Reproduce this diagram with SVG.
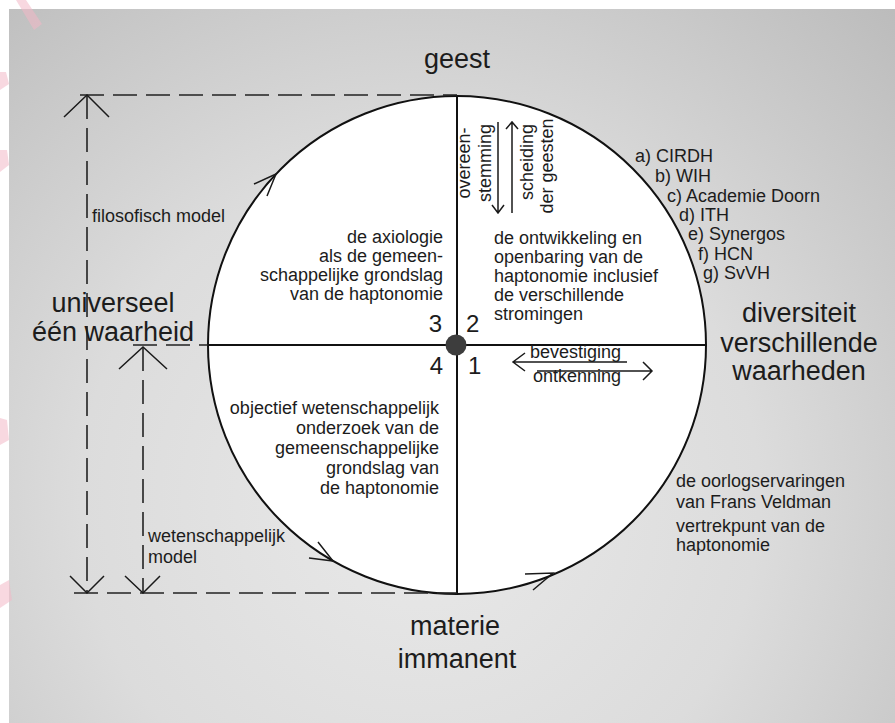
<svg xmlns="http://www.w3.org/2000/svg" width="895" height="723" viewBox="0 0 895 723">
<defs>
<radialGradient id="bg" gradientUnits="userSpaceOnUse" cx="420" cy="500" r="680">
<stop offset="0" stop-color="#e9e9e9"/>
<stop offset="0.5" stop-color="#dcdcdc"/>
<stop offset="1" stop-color="#bcbcbc"/>
</radialGradient>
<style>
.big{font-family:"Liberation Sans",Arial,sans-serif;font-size:27px;fill:#1c1c1c}
.sm{font-family:"Liberation Sans",Arial,sans-serif;font-size:18px;fill:#1c1c1c}
.num{font-family:"Liberation Sans",Arial,sans-serif;font-size:24px;fill:#1c1c1c}
.mid{text-anchor:middle}
.end{text-anchor:end}
.ln{stroke:#111;stroke-width:2;fill:none}
.th{stroke:#1a1a1a;stroke-width:1.5;fill:none}
.dash{stroke:#222;stroke-width:1.6;fill:none;stroke-dasharray:24 9}
.pink{fill:#f2b8c6;opacity:0.55}
</style>
</defs>
<rect width="895" height="723" fill="#ffffff"/>
<rect x="9" y="9" width="886" height="714" fill="url(#bg)"/>
<g id="watermark">
<polygon class="pink" points="16,0 26,0 42,24 34,30"/>
<polygon class="pink" points="0,72 6,72 9,84 0,90"/>
<polygon class="pink" points="0,150 7,150 9,165 0,172"/>
<polygon class="pink" points="0,418 7,420 9,440 0,445"/>
<polygon class="pink" points="0,585 9,580 12,600 0,608"/>
</g>
<g id="circle">
<circle cx="457" cy="345" r="249" fill="#ffffff" stroke="#111" stroke-width="2"/>
<path class="ln" d="M457,96 V594 M208,345 H706"/>
<circle cx="456" cy="345" r="10.5" fill="#3d3d3d"/>
</g>
<g id="connectors">
<path class="dash" d="M80,95 H457"/>
<path class="dash" d="M87,95 V593"/>
<path class="dash" d="M74,593 H457"/>
<path class="dash" d="M143,347 V593"/>
<path class="dash" d="M133,345 H208"/>
<path class="th" d="M64,117 L87,95 L109,117"/>
<path class="th" d="M119,369 L143,347 L167,369"/>
<path class="th" d="M70,576 L87,593 L104,576"/>
<path class="th" d="M125,576 L143,593 L160,576"/>
<path class="th" d="M498,122 V213 M492,205 L498,213 L504,205"/>
<path class="th" d="M512,122 V213 M506,129 L512,122 L518,129"/>
<path class="th" d="M627,362 H513 M525,353 L513,362 L525,371"/>
<path class="th" d="M537,371 H652 M643,362 L652,371 L643,380"/>
<path class="th" d="M254,184 L276,174 L267,196"/>
<path class="th" d="M309,558 L333,561 L318,542"/>
<path class="th" d="M525,574 L553,573 L533,590"/>
</g>
<g id="geest"><text class="big mid" x="457" y="68">geest</text></g>
<g id="materie"><text class="big mid" x="455" y="635">materie</text><text class="big mid" x="457" y="668">immanent</text></g>
<g id="universeel"><text class="big mid" x="113" y="312">universeel</text><text class="big mid" x="113" y="341">één waarheid</text></g>
<g id="diversiteit"><text class="big mid" x="799" y="322">diversiteit</text><text class="big mid" x="799" y="352">verschillende</text><text class="big mid" x="799" y="380">waarheden</text></g>
<g id="q3">
<text class="sm end" x="443" y="243">de axiologie</text>
<text class="sm end" x="443" y="262">als de gemeen-</text>
<text class="sm end" x="443" y="281">schappelijke grondslag</text>
<text class="sm end" x="443" y="300">van de haptonomie</text>
<text class="num end" x="442" y="332">3</text>
</g>
<g id="q2">
<text class="sm" x="494" y="244">de ontwikkeling en</text>
<text class="sm" x="494" y="263">openbaring van de</text>
<text class="sm" x="494" y="282">haptonomie inclusief</text>
<text class="sm" x="494" y="301">de verschillende</text>
<text class="sm" x="494" y="320">stromingen</text>
<text class="num" x="466" y="332">2</text>
</g>
<g id="q4">
<text class="sm end" x="439" y="414">objectief wetenschappelijk</text>
<text class="sm end" x="439" y="434">onderzoek van de</text>
<text class="sm end" x="439" y="454">gemeenschappelijke</text>
<text class="sm end" x="439" y="474">grondslag van</text>
<text class="sm end" x="439" y="494">de haptonomie</text>
<text class="num end" x="443" y="374">4</text>
</g>
<g id="q1">
<text class="num" x="468" y="374">1</text>
<text class="sm" x="530" y="358">bevestiging</text>
<text class="sm" x="533" y="382">ontkenning</text>
</g>
<g id="vertical-labels">
<text class="sm mid" transform="translate(470,163) rotate(-90)">overeen-</text>
<text class="sm mid" transform="translate(491,163) rotate(-90)">stemming</text>
<text class="sm mid" transform="translate(533,162) rotate(-90)">scheiding</text>
<text class="sm mid" transform="translate(553,166) rotate(-90)">der geesten</text>
</g>
<g id="list">
<text class="sm" x="635" y="162">a) CIRDH</text>
<text class="sm" x="655" y="182">b) WIH</text>
<text class="sm" x="667" y="202">c) Academie Doorn</text>
<text class="sm" x="679" y="221">d) ITH</text>
<text class="sm" x="688" y="240">e) Synergos</text>
<text class="sm" x="698" y="260">f) HCN</text>
<text class="sm" x="703" y="279">g) SvVH</text>
</g>
<g id="oorlog">
<text class="sm" x="676" y="487">de oorlogservaringen</text>
<text class="sm" x="676" y="508">van Frans Veldman</text>
<text class="sm" x="676" y="532">vertrekpunt van de</text>
<text class="sm" x="676" y="551">haptonomie</text>
</g>
<g id="models">
<text class="sm" x="92" y="222">filosofisch model</text>
<text class="sm" x="148" y="542">wetenschappelijk</text>
<text class="sm" x="148" y="563">model</text>
</g>
</svg>
